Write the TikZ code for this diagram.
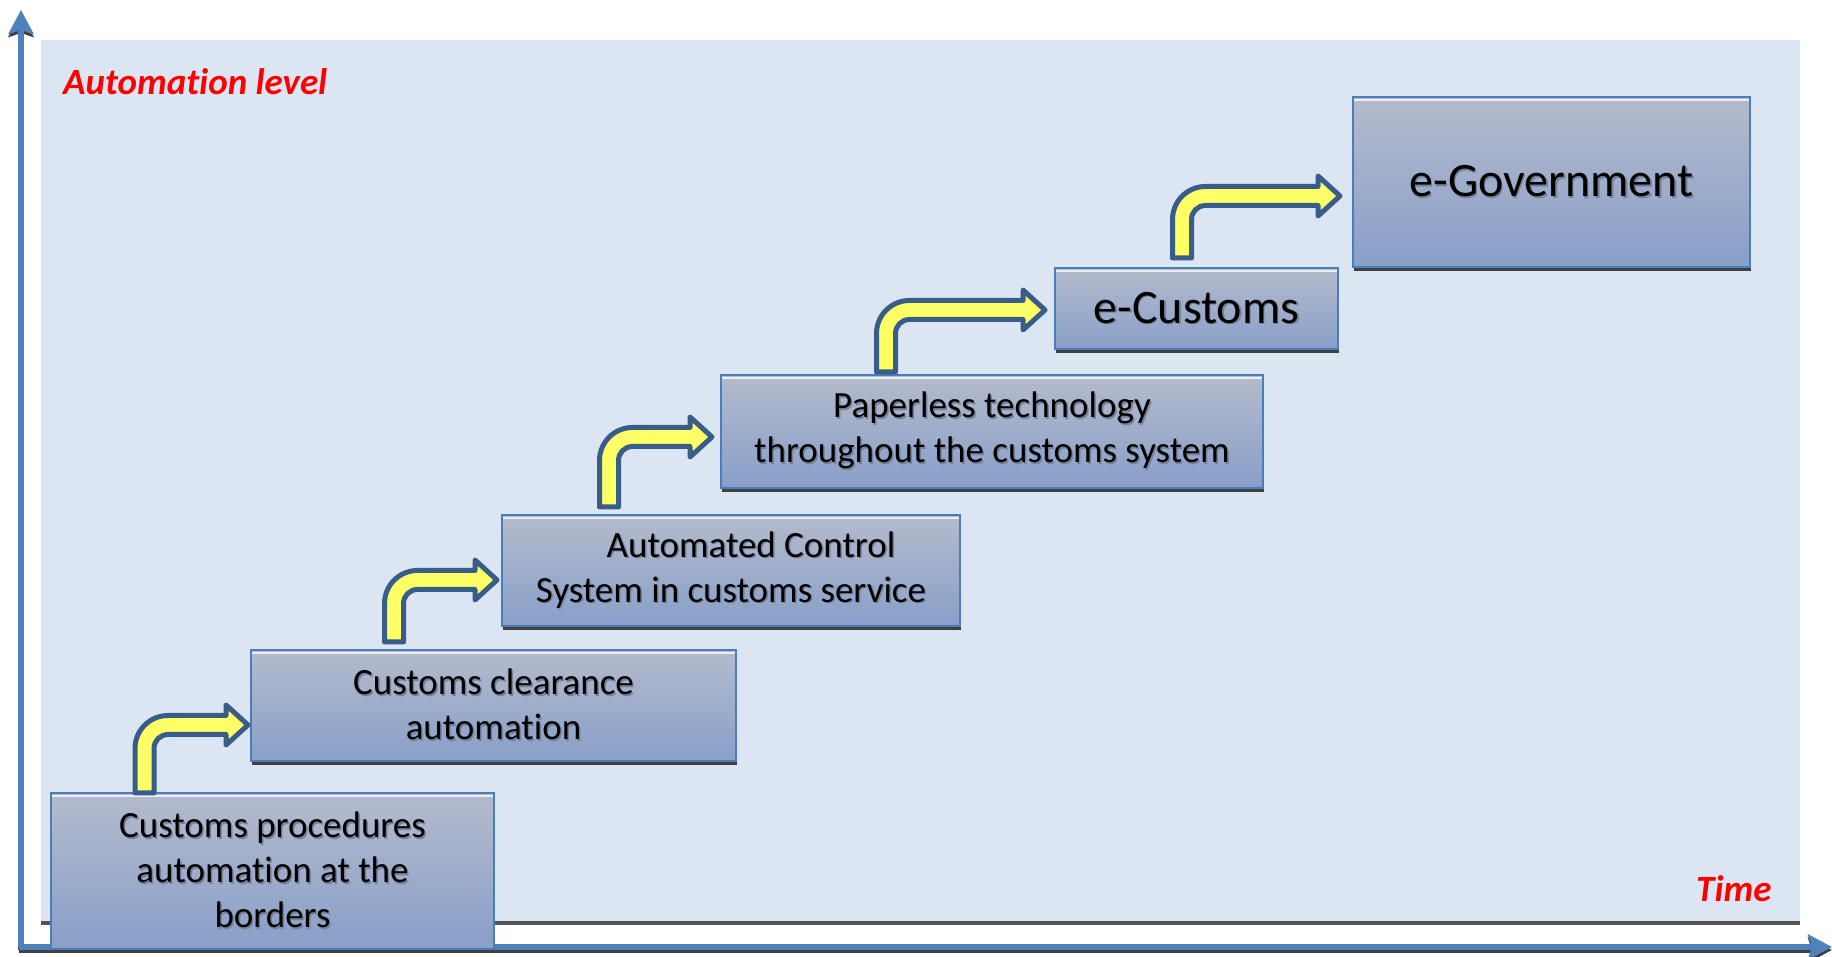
\documentclass[tikz,border=0pt]{standalone}
\usepackage{fontspec}
\setmainfont{Carlito}[Ligatures=NoCommon]
\usetikzlibrary{calc,shadows,arrows.meta}
\definecolor{bg}{HTML}{DCE6F2}
\definecolor{boxtop}{RGB}{180,187,204}
\definecolor{boxbot}{RGB}{136,159,201}
\definecolor{boxborder}{HTML}{4A7EBB}
\definecolor{axisblue}{HTML}{4F81BD}
\definecolor{shadowgray}{HTML}{404040}
\definecolor{arrowfill}{RGB}{255,255,102}
\definecolor{arrowborder}{RGB}{56,93,138}
\definecolor{labelred}{RGB}{255,0,0}
\definecolor{txtshadow}{RGB}{118,128,152}
% text with a soft drop shadow
\newcommand{\shtxt}[1]{\leavevmode\rlap{\kern1.5pt\raisebox{-1.5pt}{\color{txtshadow}#1}}#1}
% bent (up then right) block arrow from #1 (stem bottom centre) to #2 (tip)
\newcommand{\bentarrow}[2]{%
  \draw[bentarrow] let \p1=(#1), \p2=(#2) in
    (\x1-9.5pt,\y1) -- (\x1-9.5pt,\y2+9.5pt-33pt)
    arc[start angle=180,end angle=90,radius=33pt]
    -- (\x2-22pt,\y2+9.5pt) -- (\x2-22pt,\y2+20pt) -- (\x2,\y2)
    -- (\x2-22pt,\y2-20pt) -- (\x2-22pt,\y2-9.5pt)
    -- (\x1+9.5pt+14pt,\y2-9.5pt)
    arc[start angle=90,end angle=180,radius=14pt]
    -- (\x1+9.5pt,\y1) -- cycle;}
\begin{document}
\begin{tikzpicture}[x=1pt,y=1pt,
  stage/.style={draw=boxborder, line width=1.6pt, top color=boxtop, bottom color=boxbot,
    text=black, align=center, inner sep=0pt, outer sep=0pt,
    font=\fontsize{37pt}{45pt}\selectfont,
    drop shadow={shadow xshift=1pt, shadow yshift=-4.5pt, fill=shadowgray, opacity=1},
    path picture={\draw[white!75!boxtop, line width=2pt]
      ([yshift=-2.6pt]path picture bounding box.north west) --
      ([yshift=-2.6pt]path picture bounding box.north east);}},
  bigstage/.style={stage, font=\fontsize{48pt}{56pt}\selectfont},
  bentarrow/.style={fill=arrowfill, draw=arrowborder, line width=5pt, line join=round},
  axisline/.style={draw=axisblue, line width=6pt,
    -{Stealth[length=24pt,width=25pt,inset=4pt]}},
  axisshadow/.style={draw=shadowgray, line width=6pt,
    -{Stealth[length=24pt,width=25pt,inset=4pt]}},
  axislabel/.style={text=labelred, font=\fontsize{37pt}{45pt}\selectfont\bfseries\itshape,
    inner sep=0pt}]
\useasboundingbox (0,0) rectangle (1832,957);
% background panel
\fill[bg] (41,34) rectangle (1800,917);
\draw[shadowgray!90, line width=4pt] (41,34) -- (1800,34);
% axes
\coordinate (o) at (21,10);
\coordinate (ytop) at (21,947);
\coordinate (xend) at (1832,10);
\coordinate (oy) at (19,10);
\draw[axisshadow] ([yshift=-3pt]oy) -- ([yshift=-3pt]xend);
\draw[axisshadow] ([yshift=-3pt]o) -- ([yshift=-3pt]ytop);
\draw[axisline] (oy) -- (xend);
\draw[axisline] (o) -- (ytop);
% axis labels
\node[axislabel, anchor=base west] (ylab) at (63,862) {Automation level};
\node[axislabel, anchor=base west] (xlab) at (1696,55) {Time};
% stages
\node[stage, minimum width=443pt, minimum height=156pt] (b1) at (272.5,86)
  {\shtxt{Customs procedures}\\\shtxt{automation at the}\\\shtxt{borders}};
\node[stage, minimum width=485pt, minimum height=111pt] (b2) at (493.5,251.5)
  {\shtxt{Customs clearance}\\\shtxt{automation}};
\node[stage, minimum width=458pt, minimum height=111pt] (b3) at (731,386.5)
  {\hspace*{40pt}\shtxt{Automated Control}\\\shtxt{System in customs service}};
\node[stage, minimum width=542pt, minimum height=113pt] (b4) at (992,525.5)
  {\shtxt{Paperless technology}\\\shtxt{throughout the customs system}};
\node[bigstage, minimum width=283pt, minimum height=81pt] (b5) at (1196.5,648.5)
  {\shtxt{e-Customs}};
\node[bigstage, minimum width=397pt, minimum height=170pt] (b6) at (1551.5,775)
  {\shtxt{e-Government}};
% connector end points
\coordinate (s1) at ($(b1.north west)+(93.5,0)$);
\coordinate (t1) at ($(b2.west)+(-3,-19.5)$);
\coordinate (s2) at ($(b2.north west)+(143,8)$);
\coordinate (t2) at ($(b3.west)+(-5,-9.5)$);
\coordinate (s3) at ($(b3.north west)+(107,8)$);
\coordinate (t3) at ($(b4.west)+(-9,-5.5)$);
\coordinate (s4) at ($(b4.north west)+(165,3)$);
\coordinate (t4) at ($(b5.west)+(-10,-1.5)$);
\coordinate (s5) at ($(b5.north west)+(127,10)$);
\coordinate (t5) at ($(b6.west)+(-13,-14)$);
\bentarrow{s1}{t1}
\bentarrow{s2}{t2}
\bentarrow{s3}{t3}
\bentarrow{s4}{t4}
\bentarrow{s5}{t5}
\end{tikzpicture}
\end{document}
